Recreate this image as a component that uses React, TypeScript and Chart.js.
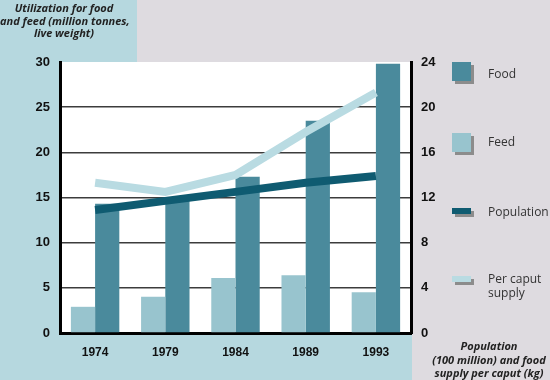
import React, { useEffect, useRef } from "react";
import { Chart, registerables } from "chart.js";
Chart.register(...registerables);

const years = ["1974", "1979", "1984", "1989", "1993"];
const foodValues = [14.3, 14.8, 17.3, 23.5, 29.8];
const feedValues = [2.9, 4.0, 6.1, 6.4, 4.5];
const populationValues = [10.9, 11.7, 12.5, 13.3, 13.9];
const perCaputValues = [13.3, 12.5, 14.0, 17.8, 21.3];
const leftTicks = [0, 5, 10, 15, 20, 25, 30];
const rightTicks = [0, 4, 8, 12, 16, 20, 24];

const C_FOOD = "#4a8a9c";
const C_FEED = "#98c4ce";
const C_POP = "#0f5b71";
const C_PC = "#b9dbe2";
const C_BLUE = "#b6d8df";
const C_GRAY = "#dedbe0";

const bgPlugin = {
  id: "bgPlugin",
  beforeDraw(chart: any) {
    const { ctx, chartArea } = chart;
    ctx.save();
    ctx.fillStyle = C_GRAY;
    ctx.fillRect(0, 0, chart.width, chart.height);
    ctx.fillStyle = C_BLUE;
    ctx.fillRect(0, 0, 137, chartArea.top);
    ctx.fillRect(0, 0, chartArea.left, chart.height);
    ctx.fillRect(0, chartArea.bottom, chartArea.right + 1, chart.height - chartArea.bottom);
    ctx.fillStyle = "#ffffff";
    ctx.fillRect(chartArea.left, chartArea.top, chartArea.right - chartArea.left, chartArea.bottom - chartArea.top);
    ctx.restore();
  },
};

const legendItems = [
  { label: ["Food"], color: C_FOOD, top: 62, h: 19, textTop: 75 },
  { label: ["Feed"], color: C_FEED, top: 133, h: 19, textTop: 143 },
  { label: ["Population"], color: C_POP, top: 208, h: 6, textTop: 213 },
  { label: ["Per caput", "supply"], color: C_PC, top: 276, h: 6, textTop: 280 },
];

export default function App() {
  const ref = useRef<HTMLCanvasElement>(null);
  useEffect(() => {
    const chart = new Chart(ref.current!, {
      type: "bar",
      data: {
        labels: years,
        datasets: [
          {
            type: "line",
            label: "Per caput supply",
            data: perCaputValues,
            yAxisID: "y1",
            borderColor: C_PC,
            borderWidth: 8,
            pointRadius: 0,
            tension: 0,
            order: 0,
          } as any,
          {
            type: "line",
            label: "Population",
            data: populationValues,
            yAxisID: "y1",
            borderColor: C_POP,
            borderWidth: 8,
            pointRadius: 0,
            tension: 0,
            order: 0,
          } as any,
          {
            label: "Feed",
            data: feedValues,
            backgroundColor: C_FEED,
            yAxisID: "y",
            order: 1,
            categoryPercentage: 0.69,
            barPercentage: 1,
          },
          {
            label: "Food",
            data: foodValues,
            backgroundColor: C_FOOD,
            yAxisID: "y",
            order: 1,
            categoryPercentage: 0.69,
            barPercentage: 1,
          },
        ],
      },
      options: {
        animation: false,
        responsive: false,
        layout: { padding: { top: 62, left: 0, right: 0, bottom: 0 } },
        plugins: { legend: { display: false }, tooltip: { enabled: false } },
        scales: {
          x: {
            grid: { display: false, drawTicks: false },
            border: { color: "#000", width: 3 },
            ticks: {
              padding: 12,
              color: "#111",
              font: { family: "Liberation Sans", weight: "bold", size: 12 },
            },
            afterFit(s: any) {
              s.height = 47;
            },
          },
          y: {
            min: 0,
            max: 30,
            afterBuildTicks(s: any) {
              s.ticks = leftTicks.map((v) => ({ value: v }));
            },
            grid: {
              drawTicks: false,
              color: (c: any) => (c.tick && (c.tick.value === 0 || c.tick.value === 30) ? "rgba(0,0,0,0)" : "#3c3c3c"),
              lineWidth: 1.5,
            },
            border: { color: "#000", width: 3 },
            ticks: {
              padding: 10,
              color: "#111",
              font: { family: "Liberation Sans", weight: "bold", size: 13 },
            },
            afterFit(s: any) {
              s.width = 60;
            },
          },
          y1: {
            position: "right",
            min: 0,
            max: 24,
            afterBuildTicks(s: any) {
              s.ticks = rightTicks.map((v) => ({ value: v }));
            },
            grid: { display: false, drawTicks: false },
            border: { color: "#000", width: 3 },
            ticks: {
              padding: 10,
              color: "#111",
              font: { family: "Liberation Sans", weight: "bold", size: 13 },
            },
            afterFit(s: any) {
              s.width = 139;
            },
          },
        },
      },
      plugins: [bgPlugin],
    } as any);
    return () => chart.destroy();
  }, []);

  const titleFont: React.CSSProperties = {
    fontFamily: "'Open Sans', sans-serif",
    fontStyle: "italic",
    fontWeight: 700,
    fontSize: 11,
    color: "#222",
    position: "absolute",
    textAlign: "center",
    whiteSpace: "nowrap",
  };

  return (
    <div style={{ position: "fixed", left: 0, top: 0, width: 550, height: 380, overflow: "hidden" }}>
      <canvas ref={ref} width={550} height={380} style={{ position: "absolute", left: 0, top: 0 }} />
      <div style={{ ...titleFont, left: 0, top: 2, width: 128, lineHeight: "12.5px" }}>
        Utilization for food
        <br />
        and feed (million tonnes,
        <br />
        live weight)
      </div>
      <div style={{ ...titleFont, left: 428, top: 339, width: 122, lineHeight: "13.5px" }}>
        Population
        <br />
        (100 million) and food
        <br />
        supply per caput (kg)
      </div>
      {legendItems.map((it, i) => (
        <React.Fragment key={i}>
          <div style={{ position: "absolute", left: 455, top: it.top + 3, width: 19, height: it.h, background: "#8c8c8c" }} />
          <div style={{ position: "absolute", left: 452, top: it.top, width: 19, height: it.h, background: it.color }} />
          <div
            style={{
              position: "absolute",
              left: 488,
              top: it.textTop - 8,
              fontFamily: "'Open Sans', sans-serif",
              fontSize: 12,
              lineHeight: "14px",
              color: "#333",
            }}
          >
            {it.label.map((l, j) => (
              <div key={j}>{l}</div>
            ))}
          </div>
        </React.Fragment>
      ))}
    </div>
  );
}
